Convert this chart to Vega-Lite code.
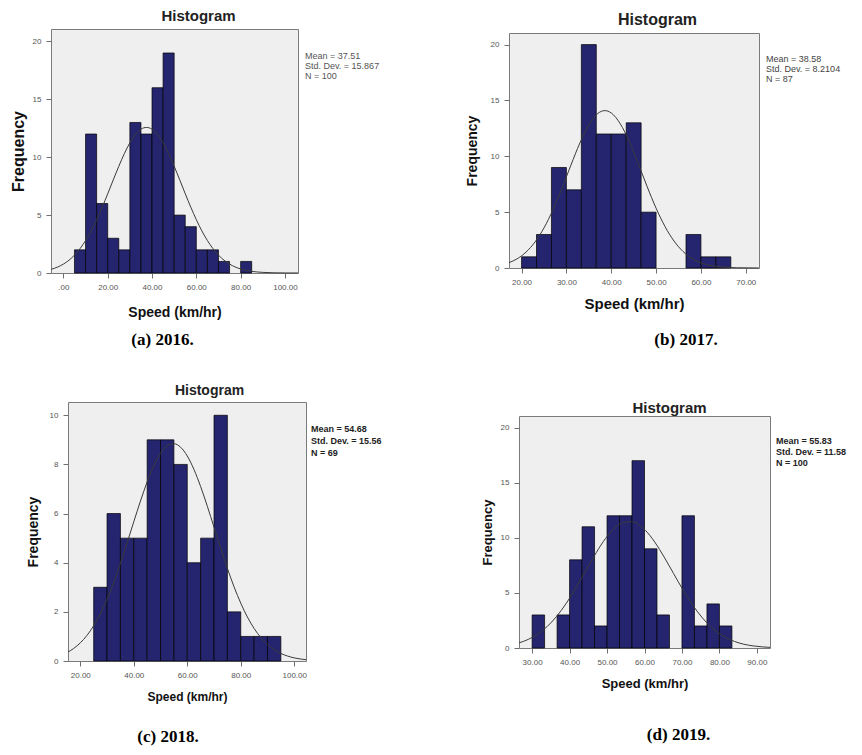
{
  "$schema": "https://vega.github.io/schema/vega-lite/v6.json",
  "padding": {"left": 8, "top": 6, "right": 0, "bottom": 0},
  "background": "white",
  "datasets": {
    "a_bars": [
      {"start": 5, "end": 10, "count": 2}, {"start": 10, "end": 15, "count": 12}, {"start": 15, "end": 20, "count": 6},
      {"start": 20, "end": 25, "count": 3}, {"start": 25, "end": 30, "count": 2}, {"start": 30, "end": 35, "count": 13},
      {"start": 35, "end": 40, "count": 12}, {"start": 40, "end": 45, "count": 16}, {"start": 45, "end": 50, "count": 19},
      {"start": 50, "end": 55, "count": 5}, {"start": 55, "end": 60, "count": 4}, {"start": 60, "end": 65, "count": 2},
      {"start": 65, "end": 70, "count": 2}, {"start": 70, "end": 75, "count": 1}, {"start": 80, "end": 85, "count": 1}
    ],
    "a_curve": [
      {"speed": -5.5, "freq": 0.319}, {"speed": -2.5, "freq": 0.523}, {"speed": 0, "freq": 0.769}, {"speed": 2.5, "freq": 1.102},
      {"speed": 5, "freq": 1.541}, {"speed": 7.5, "freq": 2.102}, {"speed": 10, "freq": 2.797}, {"speed": 12.5, "freq": 3.63},
      {"speed": 15, "freq": 4.596}, {"speed": 17.5, "freq": 5.676}, {"speed": 20, "freq": 6.838}, {"speed": 22.5, "freq": 8.037},
      {"speed": 25, "freq": 9.213}, {"speed": 27.5, "freq": 10.303}, {"speed": 30, "freq": 11.239}, {"speed": 32.5, "freq": 11.96},
      {"speed": 35, "freq": 12.415}, {"speed": 37.5, "freq": 12.571}, {"speed": 40, "freq": 12.418}, {"speed": 42.5, "freq": 11.965},
      {"speed": 45, "freq": 11.246}, {"speed": 47.5, "freq": 10.311}, {"speed": 50, "freq": 9.222}, {"speed": 52.5, "freq": 8.047},
      {"speed": 55, "freq": 6.848}, {"speed": 57.5, "freq": 5.685}, {"speed": 60, "freq": 4.604}, {"speed": 62.5, "freq": 3.637},
      {"speed": 65, "freq": 2.803}, {"speed": 67.5, "freq": 2.107}, {"speed": 70, "freq": 1.545}, {"speed": 72.5, "freq": 1.105},
      {"speed": 75, "freq": 0.771}, {"speed": 77.5, "freq": 0.525}, {"speed": 80, "freq": 0.348}, {"speed": 82.5, "freq": 0.226},
      {"speed": 85, "freq": 0.143}, {"speed": 87.5, "freq": 0.088}, {"speed": 90, "freq": 0.053}, {"speed": 95, "freq": 0.018},
      {"speed": 100, "freq": 0.005}, {"speed": 105.9, "freq": 0.001}
    ],
    "a_stats": [{"stats": ["Mean = 37.51", "Std. Dev. = 15.867", "N = 100"]}],
    "b_bars": [
      {"start": 20, "end": 23.333, "count": 1}, {"start": 23.333, "end": 26.667, "count": 3}, {"start": 26.667, "end": 30, "count": 9},
      {"start": 30, "end": 33.333, "count": 7}, {"start": 33.333, "end": 36.667, "count": 20}, {"start": 36.667, "end": 40, "count": 12},
      {"start": 40, "end": 43.333, "count": 12}, {"start": 43.333, "end": 46.667, "count": 13}, {"start": 46.667, "end": 50, "count": 5},
      {"start": 56.667, "end": 60, "count": 3}, {"start": 60, "end": 63.333, "count": 1}, {"start": 63.333, "end": 66.667, "count": 1}
    ],
    "b_curve": [
      {"speed": 17.2, "freq": 0.475}, {"speed": 19, "freq": 0.82}, {"speed": 21, "freq": 1.423}, {"speed": 23, "freq": 2.328},
      {"speed": 25, "freq": 3.588}, {"speed": 27, "freq": 5.211}, {"speed": 29, "freq": 7.133}, {"speed": 31, "freq": 9.203},
      {"speed": 33, "freq": 11.185}, {"speed": 35, "freq": 12.814}, {"speed": 37, "freq": 13.834}, {"speed": 38.58, "freq": 14.092},
      {"speed": 40, "freq": 13.883}, {"speed": 42, "freq": 12.921}, {"speed": 44, "freq": 11.333}, {"speed": 46, "freq": 9.367},
      {"speed": 48, "freq": 7.297}, {"speed": 50, "freq": 5.356}, {"speed": 52, "freq": 3.705}, {"speed": 54, "freq": 2.415},
      {"speed": 56, "freq": 1.484}, {"speed": 58, "freq": 0.859}, {"speed": 60, "freq": 0.469}, {"speed": 62, "freq": 0.241},
      {"speed": 64, "freq": 0.117}, {"speed": 66, "freq": 0.053}, {"speed": 68, "freq": 0.023}, {"speed": 72.9, "freq": 0.001}
    ],
    "b_stats": [{"stats": ["Mean = 38.58", "Std. Dev. = 8.2104", "N = 87"]}],
    "c_bars": [
      {"start": 25, "end": 30, "count": 3}, {"start": 30, "end": 35, "count": 6}, {"start": 35, "end": 40, "count": 5},
      {"start": 40, "end": 45, "count": 5}, {"start": 45, "end": 50, "count": 9}, {"start": 50, "end": 55, "count": 9},
      {"start": 55, "end": 60, "count": 8}, {"start": 60, "end": 65, "count": 4}, {"start": 65, "end": 70, "count": 5},
      {"start": 70, "end": 75, "count": 10}, {"start": 75, "end": 80, "count": 2}, {"start": 80, "end": 85, "count": 1},
      {"start": 85, "end": 90, "count": 1}, {"start": 90, "end": 95, "count": 1}
    ],
    "c_curve": [
      {"speed": 15.4, "freq": 0.365}, {"speed": 17.5, "freq": 0.509}, {"speed": 20, "freq": 0.738}, {"speed": 22.5, "freq": 1.042},
      {"speed": 25, "freq": 1.434}, {"speed": 27.5, "freq": 1.924}, {"speed": 30, "freq": 2.515}, {"speed": 32.5, "freq": 3.203},
      {"speed": 35, "freq": 3.975}, {"speed": 37.5, "freq": 4.808}, {"speed": 40, "freq": 5.668}, {"speed": 42.5, "freq": 6.511},
      {"speed": 45, "freq": 7.289}, {"speed": 47.5, "freq": 7.952}, {"speed": 50, "freq": 8.454}, {"speed": 52.5, "freq": 8.758},
      {"speed": 55, "freq": 8.843}, {"speed": 57.5, "freq": 8.701}, {"speed": 60, "freq": 8.343}, {"speed": 62.5, "freq": 7.795},
      {"speed": 65, "freq": 7.099}, {"speed": 67.5, "freq": 6.299}, {"speed": 70, "freq": 5.448}, {"speed": 72.5, "freq": 4.591},
      {"speed": 75, "freq": 3.77}, {"speed": 77.5, "freq": 3.017}, {"speed": 80, "freq": 2.354}, {"speed": 82.5, "freq": 1.788},
      {"speed": 85, "freq": 1.325}, {"speed": 87.5, "freq": 0.956}, {"speed": 90, "freq": 0.673}, {"speed": 92.5, "freq": 0.461},
      {"speed": 95, "freq": 0.308}, {"speed": 97.5, "freq": 0.201}, {"speed": 100, "freq": 0.127}, {"speed": 104.4, "freq": 0.054}
    ],
    "c_stats": [{"stats": ["Mean = 54.68", "Std. Dev. = 15.56", "N = 69"]}],
    "d_bars": [
      {"start": 30, "end": 33.333, "count": 3}, {"start": 36.667, "end": 40, "count": 3}, {"start": 40, "end": 43.333, "count": 8},
      {"start": 43.333, "end": 46.667, "count": 11}, {"start": 46.667, "end": 50, "count": 2}, {"start": 50, "end": 53.333, "count": 12},
      {"start": 53.333, "end": 56.667, "count": 12}, {"start": 56.667, "end": 60, "count": 17}, {"start": 60, "end": 63.333, "count": 9},
      {"start": 63.333, "end": 66.667, "count": 3}, {"start": 70, "end": 73.333, "count": 12}, {"start": 73.333, "end": 76.667, "count": 2},
      {"start": 76.667, "end": 80, "count": 4}, {"start": 80, "end": 83.333, "count": 2}
    ],
    "d_curve": [
      {"speed": 26.5, "freq": 0.465}, {"speed": 29, "freq": 0.784}, {"speed": 31.5, "freq": 1.263}, {"speed": 34, "freq": 1.943},
      {"speed": 36.5, "freq": 2.852}, {"speed": 39, "freq": 3.994}, {"speed": 41.5, "freq": 5.34}, {"speed": 44, "freq": 6.816},
      {"speed": 46.5, "freq": 8.301}, {"speed": 49, "freq": 9.651}, {"speed": 51.5, "freq": 10.709}, {"speed": 54, "freq": 11.342},
      {"speed": 56.5, "freq": 11.465}, {"speed": 59, "freq": 11.061}, {"speed": 61.5, "freq": 10.186}, {"speed": 64, "freq": 8.954},
      {"speed": 66.5, "freq": 7.512}, {"speed": 69, "freq": 6.014}, {"speed": 71.5, "freq": 4.597}, {"speed": 74, "freq": 3.353},
      {"speed": 76.5, "freq": 2.335}, {"speed": 79, "freq": 1.552}, {"speed": 81.5, "freq": 0.984}, {"speed": 84, "freq": 0.596},
      {"speed": 86.5, "freq": 0.344}, {"speed": 89, "freq": 0.19}, {"speed": 91.5, "freq": 0.1}, {"speed": 93.5, "freq": 0.058}
    ],
    "d_stats": [{"stats": ["Mean = 55.83", "Std. Dev. = 11.58", "N = 100"]}]
  },
  "vconcat": [
    {
      "hconcat": [
        {"width": 1, "height": 1, "data": {"values": []}, "mark": {"type": "text", "text": ""}, "encoding": {}, "view": {"stroke": null, "fill": null}},
        {
          "hconcat": [
            {
              "vconcat": [
                {"width": 1, "height": 1, "data": {"values": []}, "mark": {"type": "text", "text": ""}, "encoding": {}, "view": {"stroke": null, "fill": null}},
                {
                  "width": 247, "height": 244,
                  "title": {"text": "(a) 2016.", "orient": "bottom", "anchor": "middle", "font": "Liberation Serif", "fontSize": 17, "fontWeight": "bold", "color": "#000000", "offset": 13, "dx": -12},
                  "resolve": {"axis": {"x": "independent"}},
                  "layer": [
                    {
                      "data": {"name": "a_bars"},
                      "mark": {"type": "bar", "fill": "#25256f", "stroke": "#000000", "strokeWidth": 0.7},
                      "encoding": {
                        "x": {"field": "start", "type": "quantitative", "title": "Speed (km/hr)",
                          "scale": {"domain": [-5.6, 105.9], "nice": false, "zero": false},
                          "axis": {"values": [0, 20, 40, 60, 80, 100], "labelExpr": "datum.value === 0 ? '.00' : format(datum.value, '.2f')", "titleFontSize": 14, "titlePadding": 14}},
                        "x2": {"field": "end"},
                        "y": {"field": "count", "type": "quantitative", "title": "Frequency",
                          "scale": {"domain": [0, 21.07], "nice": false},
                          "axis": {"values": [0, 5, 10, 15, 20], "format": "d", "titleFontSize": 16, "titlePadding": 6}},
                        "y2": {"datum": 0}
                      }
                    },
                    {
                      "data": {"name": "a_curve"},
                      "mark": {"type": "line", "color": "#3a3a3a", "strokeWidth": 1, "interpolate": "monotone"},
                      "encoding": {
                        "x": {"field": "speed", "type": "quantitative",
                          "axis": {"orient": "top", "labels": false, "ticks": false, "domain": false, "title": "Histogram", "titleFontSize": 15, "titleColor": "#222222", "titlePadding": 6, "titleX": 147}},
                        "y": {"field": "freq", "type": "quantitative", "title": "Frequency"}
                      }
                    },
                    {
                      "data": {"name": "a_stats"},
                      "mark": {"type": "text", "align": "left", "baseline": "top", "dx": 7, "dy": 23, "fontSize": 9, "lineHeight": 10, "color": "#555555"},
                      "encoding": {"x": {"value": "width"}, "y": {"value": 0}, "text": {"field": "stats", "type": "nominal"}}
                    }
                  ]
                }
              ],
              "spacing": 0
            },
            {
              "vconcat": [
                {"width": 1, "height": 1, "data": {"values": []}, "mark": {"type": "text", "text": ""}, "encoding": {}, "view": {"stroke": null, "fill": null}},
                {
                  "width": 250, "height": 235,
                  "title": {"text": "(b) 2017.", "orient": "bottom", "anchor": "middle", "font": "Liberation Serif", "fontSize": 17, "fontWeight": "bold", "color": "#000000", "offset": 21, "dx": 52},
                  "resolve": {"axis": {"x": "independent"}},
                  "layer": [
                    {
                      "data": {"name": "b_bars"},
                      "mark": {"type": "bar", "fill": "#25256f", "stroke": "#000000", "strokeWidth": 0.7},
                      "encoding": {
                        "x": {"field": "start", "type": "quantitative", "title": "Speed (km/hr)",
                          "scale": {"domain": [17.2, 72.95], "nice": false, "zero": false},
                          "axis": {"values": [20, 30, 40, 50, 60, 70], "format": ".2f", "titleFontSize": 15, "titlePadding": 10}},
                        "x2": {"field": "end"},
                        "y": {"field": "count", "type": "quantitative", "title": "Frequency",
                          "scale": {"domain": [0, 21.04], "nice": false},
                          "axis": {"values": [0, 5, 10, 15, 20], "format": "d", "titleFontSize": 14, "titlePadding": 11}},
                        "y2": {"datum": 0}
                      }
                    },
                    {
                      "data": {"name": "b_curve"},
                      "mark": {"type": "line", "color": "#3a3a3a", "strokeWidth": 1, "interpolate": "monotone"},
                      "encoding": {
                        "x": {"field": "speed", "type": "quantitative",
                          "axis": {"orient": "top", "labels": false, "ticks": false, "domain": false, "title": ["", "Histogram"], "titleLineHeight": 3, "titleFontSize": 16, "titleColor": "#222222", "titlePadding": 6, "titleX": 148}},
                        "y": {"field": "freq", "type": "quantitative", "title": "Frequency"}
                      }
                    },
                    {
                      "data": {"name": "b_stats"},
                      "mark": {"type": "text", "align": "left", "baseline": "top", "dx": 7, "dy": 22, "fontSize": 9, "lineHeight": 10, "color": "#444444"},
                      "encoding": {"x": {"value": "width"}, "y": {"value": 0}, "text": {"field": "stats", "type": "nominal"}}
                    }
                  ]
                }
              ],
              "spacing": 0
            }
          ],
          "spacing": 84
        }
      ],
      "spacing": 0
    },
    {
      "hconcat": [
        {"width": 17, "height": 1, "data": {"values": []}, "mark": {"type": "text", "text": ""}, "encoding": {}, "view": {"stroke": null, "fill": null}},
        {
          "hconcat": [
            {
              "vconcat": [
                {"width": 1, "height": 1, "data": {"values": []}, "mark": {"type": "text", "text": ""}, "encoding": {}, "view": {"stroke": null, "fill": null}},
                {
                  "width": 238, "height": 259,
                  "title": {"text": "(c) 2018.", "orient": "bottom", "anchor": "middle", "font": "Liberation Serif", "fontSize": 17, "fontWeight": "bold", "color": "#000000", "offset": 27, "dx": -19},
                  "resolve": {"axis": {"x": "independent"}},
                  "layer": [
                    {
                      "data": {"name": "c_bars"},
                      "mark": {"type": "bar", "fill": "#25256f", "stroke": "#000000", "strokeWidth": 0.7},
                      "encoding": {
                        "x": {"field": "start", "type": "quantitative", "title": "Speed (km/hr)",
                          "scale": {"domain": [15.4, 104.4], "nice": false, "zero": false},
                          "axis": {"values": [20, 40, 60, 80, 100], "format": ".2f", "titleFontSize": 12, "titlePadding": 12}},
                        "x2": {"field": "end"},
                        "y": {"field": "count", "type": "quantitative", "title": "Frequency",
                          "scale": {"domain": [0, 10.54], "nice": false},
                          "axis": {"values": [0, 2, 4, 6, 8, 10], "format": "d", "titleFontSize": 14, "titlePadding": 9}},
                        "y2": {"datum": 0}
                      }
                    },
                    {
                      "data": {"name": "c_curve"},
                      "mark": {"type": "line", "color": "#3a3a3a", "strokeWidth": 1, "interpolate": "monotone"},
                      "encoding": {
                        "x": {"field": "speed", "type": "quantitative",
                          "axis": {"orient": "top", "labels": false, "ticks": false, "domain": false, "title": "Histogram", "titleFontSize": 14, "titleColor": "#222222", "titlePadding": 5, "titleX": 141}},
                        "y": {"field": "freq", "type": "quantitative", "title": "Frequency"}
                      }
                    },
                    {
                      "data": {"name": "c_stats"},
                      "mark": {"type": "text", "align": "left", "baseline": "top", "dx": 5, "dy": 23, "fontSize": 9, "fontWeight": "bold", "lineHeight": 12, "color": "#222222"},
                      "encoding": {"x": {"value": "width"}, "y": {"value": 0}, "text": {"field": "stats", "type": "nominal"}}
                    }
                  ]
                }
              ],
              "spacing": 0
            },
            {
              "vconcat": [
                {"width": 1, "height": 1, "data": {"values": []}, "mark": {"type": "text", "text": ""}, "encoding": {}, "view": {"stroke": null, "fill": null}},
                {
                  "width": 251, "height": 232,
                  "title": {"text": "(d) 2019.", "orient": "bottom", "anchor": "middle", "font": "Liberation Serif", "fontSize": 17, "fontWeight": "bold", "color": "#000000", "offset": 36, "dx": 34},
                  "resolve": {"axis": {"x": "independent"}},
                  "layer": [
                    {
                      "data": {"name": "d_bars"},
                      "mark": {"type": "bar", "fill": "#25256f", "stroke": "#000000", "strokeWidth": 0.7},
                      "encoding": {
                        "x": {"field": "start", "type": "quantitative", "title": "Speed (km/hr)",
                          "scale": {"domain": [26.5, 93.5], "nice": false, "zero": false},
                          "axis": {"values": [30, 40, 50, 60, 70, 80, 90], "format": ".2f", "titleFontSize": 13, "titlePadding": 11.5}},
                        "x2": {"field": "end"},
                        "y": {"field": "count", "type": "quantitative", "title": "Frequency",
                          "scale": {"domain": [0, 21.05], "nice": false},
                          "axis": {"values": [0, 5, 10, 15, 20], "format": "d", "titleFontSize": 13, "titlePadding": 6}},
                        "y2": {"datum": 0}
                      }
                    },
                    {
                      "data": {"name": "d_curve"},
                      "mark": {"type": "line", "color": "#3a3a3a", "strokeWidth": 1, "interpolate": "monotone"},
                      "encoding": {
                        "x": {"field": "speed", "type": "quantitative",
                          "axis": {"orient": "top", "labels": false, "ticks": false, "domain": false, "title": ["", "Histogram"], "titleLineHeight": 17.5, "titleFontSize": 15, "titleColor": "#222222", "titlePadding": 1, "titleX": 150}},
                        "y": {"field": "freq", "type": "quantitative", "title": "Frequency"}
                      }
                    },
                    {
                      "data": {"name": "d_stats"},
                      "mark": {"type": "text", "align": "left", "baseline": "top", "dx": 6, "dy": 21, "fontSize": 9, "fontWeight": "bold", "lineHeight": 11, "color": "#222222"},
                      "encoding": {"x": {"value": "width"}, "y": {"value": 0}, "text": {"field": "stats", "type": "nominal"}}
                    }
                  ]
                }
              ],
              "spacing": 0
            }
          ],
          "spacing": 97
        }
      ],
      "spacing": 0
    }
  ],
  "spacing": 32,
  "config": {
    "font": "Liberation Sans",
    "view": {"fill": "#efefef", "stroke": "#7a7a7a", "strokeWidth": 1},
    "axis": {"domain": false, "grid": false, "ticks": true, "tickSize": 5, "tickColor": "#707070", "labelColor": "#555555", "labelFontSize": 8, "labelPadding": 5, "titleFontWeight": "bold", "titleColor": "#111111", "labelOverlap": false, "labelFlush": false}
  }
}
